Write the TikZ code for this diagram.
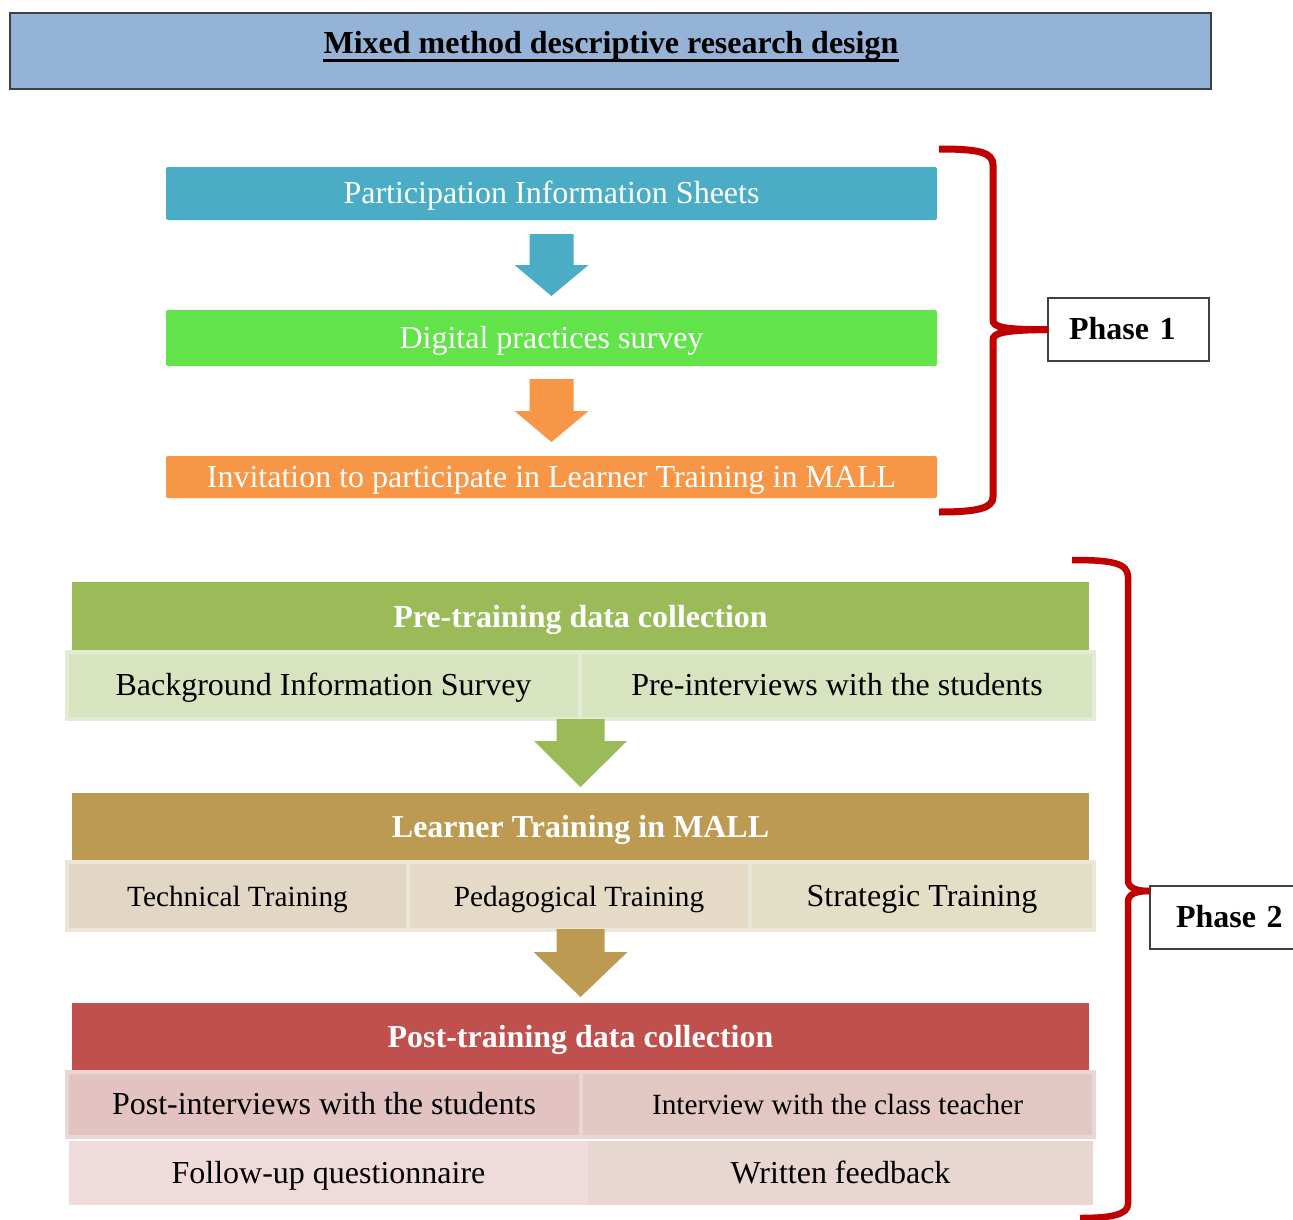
\documentclass[tikz,border=0pt]{standalone}
\usepackage{fontspec}
\setmainfont{Liberation Serif}
\usetikzlibrary{calc}
\definecolor{titlebg}{HTML}{95B3D7}
\definecolor{pblue}{HTML}{4BACC6}
\definecolor{pgreen}{HTML}{62E34A}
\definecolor{porange}{HTML}{F79646}
\definecolor{bracered}{HTML}{C00000}
\definecolor{hgreen}{HTML}{9BBB59}
\definecolor{hgold}{HTML}{BD9A52}
\definecolor{hred}{HTML}{C0504D}
\definecolor{cgreen}{HTML}{D8E4BF}
\definecolor{cgreenb}{HTML}{E3EBD4}
\definecolor{ctech}{HTML}{E2D6C5}
\definecolor{cped}{HTML}{E4DAC5}
\definecolor{cstrat}{HTML}{E3DFC7}
\definecolor{cgoldb}{HTML}{ECE6D9}
\definecolor{cpost}{HTML}{E2C3C2}
\definecolor{cint}{HTML}{E3C7C2}
\definecolor{credb}{HTML}{EAD6D5}
\definecolor{cfollow}{HTML}{F0DBDB}
\definecolor{cwritten}{HTML}{E8D6D0}
\newcommand{\blockarrow}[8]{%
  \fill[#3] ($(#2.north |- #1.south)+(-#5,#4)$) -- ($(#2.north |- #1.south)+(#5,#4)$)
    -- ($(#2.north)+(#5,-#7-#8)$) -- ($(#2.north)+(#6,-#7-#8)$)
    -- ($(#2.north)+(0,-#7)$)
    -- ($(#2.north)+(-#6,-#7-#8)$) -- ($(#2.north)+(-#5,-#7-#8)$) -- cycle;}
\tikzset{
  box/.style={rectangle, anchor=north west, inner sep=0pt, outer sep=0pt, text height=24pt, text depth=4pt},
  bigtext/.style={font=\fontsize{32}{38}\selectfont},
  smalltext/.style={font=\fontsize{29.3}{35}\selectfont},
  boldtext/.style={font=\fontsize{32}{38}\selectfont\bfseries},
  phasebox/.style={box, draw=black!75, line width=1.5pt, fill=white, align=left,
    minimum height=63pt, font=\fontsize{32}{38}\selectfont\bfseries},
  header/.style={box, boldtext, text=white},
  cell/.style={box, line width=4pt},
  brace/.style={draw=bracered, line width=7pt, line cap=butt},
}
\begin{document}
\begin{tikzpicture}[x=1pt,y=-1pt]
\useasboundingbox (0,0) rectangle (1293,1220);
\clip (0,0) rectangle (1293,1220);

% title
\node[box, fill=titlebg, draw=black!75, line width=1.5pt, minimum width=1201pt, minimum height=76pt] (title) at (10,13) {};
\node[boldtext, anchor=base, inner sep=0pt] (ttext) at ($(title.north)+(0.5,41)$) {Mixed method descriptive research design};
\fill[black] ($(ttext.base west)+(0,5)$) rectangle ($(ttext.base east)+(0,8)$);

% phase 1
\node[box, fill=pblue, rounded corners=2pt, minimum width=771pt, minimum height=53pt, bigtext, text=white] (pis) at (166,167) {Participation Information Sheets};
\node[box, fill=pgreen, rounded corners=2pt, minimum width=771pt, minimum height=56pt, bigtext, text=white] (dps) at (166,310) {Digital practices survey};
\node[box, fill=porange, rounded corners=2pt, minimum width=771pt, minimum height=42pt, bigtext, text=white] (inv) at (166,456) {Invitation to participate in Learner Training in MALL};
\blockarrow{pis}{dps}{pblue}{14}{22}{37}{14}{31}
\blockarrow{dps}{inv}{porange}{13}{22}{37}{14}{31}

\node[phasebox, inner xsep=21pt, text width=119pt] (ph1) at (1048,298) {Phase 1};
\draw[brace] (939,149) .. controls (978,149) and (993,152) .. (993,165) -- (993,320)
  .. controls (993,327) and (1003,330) .. (ph1.west);
\draw[brace] (ph1.west) .. controls (1003,330) and (993,333) .. (993,340) -- (993,497)
  .. controls (993,508) and (978,512) .. (939,512);

% phase 2 : pre-training
\node[header, fill=hgreen, minimum width=1017pt, minimum height=70pt] (pre) at (72,582) {Pre-training data collection};
\node[cell, fill=cgreen, draw=cgreenb, minimum width=513pt, minimum height=67pt, bigtext] (bis) at (67,652) {Background Information Survey};
\node[cell, fill=cgreen, draw=cgreenb, minimum width=514pt, minimum height=67pt, bigtext] (pri) at (580,652) {Pre-interviews with the students};

% learner training
\node[header, fill=hgold, minimum width=1017pt, minimum height=69pt] (ltm) at (72,793) {Learner Training in MALL};
\node[cell, fill=ctech, draw=cgoldb, minimum width=341pt, minimum height=68pt, smalltext] (tt) at (67,862) {Technical Training};
\node[cell, fill=cped, draw=cgoldb, minimum width=342pt, minimum height=68pt, smalltext] (pt) at (408,862) {Pedagogical Training};
\node[cell, fill=cstrat, draw=cgoldb, minimum width=344pt, minimum height=68pt, bigtext] (st) at (750,862) {Strategic Training};

% post-training
\node[header, fill=hred, minimum width=1017pt, minimum height=69pt] (post) at (72,1003) {Post-training data collection};
\node[cell, fill=cpost, draw=credb, minimum width=514pt, minimum height=65pt, bigtext] (poi) at (67,1072) {Post-interviews with the students};
\node[cell, fill=cint, draw=credb, minimum width=513pt, minimum height=65pt, smalltext] (iwt) at (581,1072) {Interview with the class teacher};
\node[box, fill=cfollow, minimum width=519pt, minimum height=64pt, bigtext] (fuq) at (69,1141) {Follow-up questionnaire};
\node[box, fill=cwritten, minimum width=505pt, minimum height=64pt, bigtext] (wf) at (588,1141) {Written feedback};

\blockarrow{bis}{ltm}{hgreen}{0}{24}{46.5}{6}{46}
\blockarrow{tt}{post}{hgold}{-1}{24}{47}{6}{45}

\node[phasebox, inner xsep=26pt, text width=109pt] (ph2) at (1150,886) {Phase 2};
\draw[brace, line width=6.5pt] (1072,560) .. controls (1112,560) and (1128,563) .. (1128,577) -- (1128,880)
  .. controls (1128,888) and (1136,891) .. (ph2.north west |- 0,891);
\draw[brace, line width=6.5pt] (ph2.north west |- 0,891) .. controls (1136,891) and (1128,894) .. (1128,902) -- (1128,1204)
  .. controls (1128,1215) and (1110,1218) .. (1080,1218);
\end{tikzpicture}
\end{document}
